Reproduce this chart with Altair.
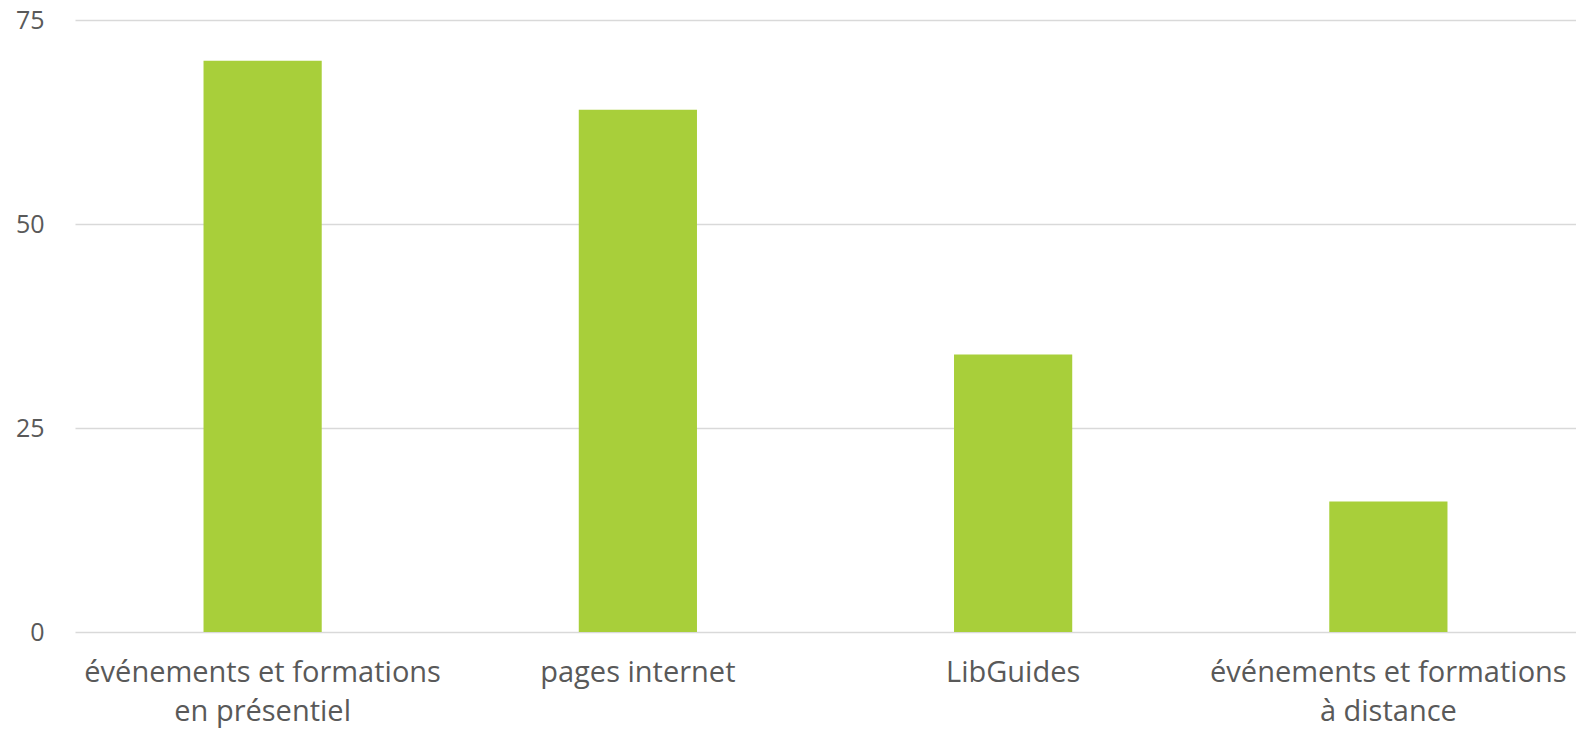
import altair as alt
import pandas as pd

categories = ["événements et formations|en présentiel", "pages internet", "LibGuides", "événements et formations|à distance"]
values = [70, 64, 34, 16]
y_ticks = [0, 25, 50, 75]

df = pd.DataFrame({"cat": categories, "val": values})

chart = alt.Chart(df).mark_bar(color="#a8cf3a").encode(
    x=alt.X("cat:N", sort=None, title=None,
            scale=alt.Scale(paddingInner=0.685, paddingOuter=0.3425),
            axis=alt.Axis(labelAngle=0, domain=False, ticks=False, labelPadding=26,
                          labelExpr="split(datum.value, '|')", labelFontSize=29,
                          labelLineHeight=39, labelColor="#595959", labelFont="Open Sans",
                          labelBaseline="top", labelLimit=0)),
    y=alt.Y("val:Q", title=None,
            scale=alt.Scale(domain=[0, 75], nice=False),
            axis=alt.Axis(values=y_ticks, domain=False, ticks=False, labelPadding=31,
                          labelFontSize=25, labelColor="#595959", labelFont="Open Sans",
                          gridColor="#d9d9d9", gridWidth=1.5)),
).properties(
    width=1501, height=612,
    autosize=alt.AutoSizeParams(type="none"),
    padding={"left": 67, "top": 12, "right": 0, "bottom": 96},
).configure_view(stroke=None)

chart.save("out.html", embed_options={"renderer": "svg", "actions": False})
